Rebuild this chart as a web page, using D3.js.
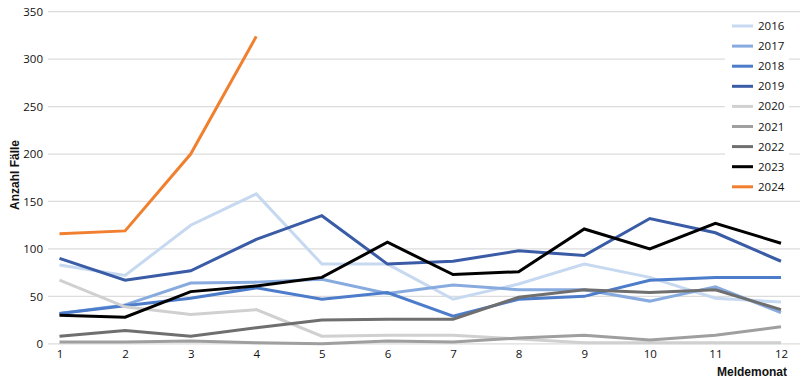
<!DOCTYPE html>
<html><head><meta charset="utf-8">
<script src="https://cdn.jsdelivr.net/npm/d3@7"></script>
<style>body{margin:0;background:#fff}</style>
</head><body><svg id="c" width="800" height="383"></svg>
<script>
const months = [1,2,3,4,5,6,7,8,9,10,11,12];
const years = ["2016","2017","2018","2019","2020","2021","2022","2023","2024"];
const colors = ["#c6d9f0","#88abdf","#4c7cca","#3a5ba6","#d0d0d0","#9f9f9f","#6f6f6f","#000000","#f0802f"];
const v2016 = [83,72,125,158,84,84,47,63,84,70,48,44];
const v2017 = [32,41,64,65,68,53,62,57,57,45,60,33];
const v2018 = [32,40,48,59,47,54,29,47,50,67,70,70];
const v2019 = [90,67,77,110,135,84,87,98,93,132,117,87];
const v2020 = [67,39,31,36,8,9,9,5,1,1,1,1];
const v2021 = [2,2,3,1,0,3,2,6,9,4,9,18];
const v2022 = [8,14,8,17,25,26,26,49,57,54,57,36];
const v2023 = [30,28,55,61,70,107,73,76,121,100,127,106];
const v2024 = [116,119,200,324];
const series = [v2016,v2017,v2018,v2019,v2020,v2021,v2022,v2023,v2024];
const yTicks = [0,50,100,150,200,250,300,350];

const svg = d3.select("#c");
const x = d3.scaleLinear().domain([1,12]).range([59.5,781]);
const y = d3.scaleLinear().domain([0,350]).range([343.8,11.7]);
const font = "'Open Sans', sans-serif";

// gridlines
svg.append("g").selectAll("line").data(yTicks).join("line")
  .attr("x1",48).attr("x2",800)
  .attr("y1",d=>y(d)).attr("y2",d=>y(d))
  .attr("stroke","#dcdcdc").attr("stroke-width",1.2);

// y axis labels
const yAxis = d3.axisLeft(y).tickValues(yTicks).tickSize(0).tickPadding(0);
const gy = svg.append("g").attr("transform","translate(43,0)").call(yAxis);
gy.select(".domain").remove();
gy.selectAll("text").attr("font-family",font).attr("font-size",11.5).attr("fill","#111");

// x axis labels
const xAxis = d3.axisBottom(x).tickValues(months).tickSize(0).tickPadding(0).tickFormat(d3.format("d"));
const gx = svg.append("g").attr("transform","translate(0,350)").call(xAxis);
gx.select(".domain").remove();
gx.selectAll("text").attr("font-family",font).attr("font-size",11.5).attr("fill","#111");

// legend background
svg.append("rect").attr("x",725).attr("y",14).attr("width",64).attr("height",184).attr("fill","#fff");

// lines
const line = d3.line().x((d,i)=>x(months[i])).y(d=>y(d));
svg.append("g").selectAll("path").data(series).join("path")
  .attr("d",line).attr("fill","none")
  .attr("stroke",(d,i)=>colors[i]).attr("stroke-width",3)
  .attr("stroke-linejoin","miter");

// legend
const lg = svg.append("g").selectAll("g").data(years).join("g")
  .attr("transform",(d,i)=>`translate(732,${26+i*20.1})`);
lg.append("line").attr("x1",0).attr("x2",21).attr("y1",0).attr("y2",0)
  .attr("stroke",(d,i)=>colors[i]).attr("stroke-width",3);
lg.append("text").attr("x",26).attr("y",4).text(d=>d)
  .attr("font-family",font).attr("font-size",11.5).attr("fill","#111");

// axis titles
svg.append("text").attr("transform","translate(19,175) rotate(-90)")
  .attr("text-anchor","middle").attr("font-family","'Liberation Sans', Arial, sans-serif")
  .attr("font-weight","bold").attr("font-size",12).attr("fill","#111").text("Anzahl Fälle");
svg.append("text").attr("x",787).attr("y",376).attr("text-anchor","end")
  .attr("font-family","'Liberation Sans', Arial, sans-serif")
  .attr("font-weight","bold").attr("font-size",12).attr("fill","#111").text("Meldemonat");
</script></body></html>
